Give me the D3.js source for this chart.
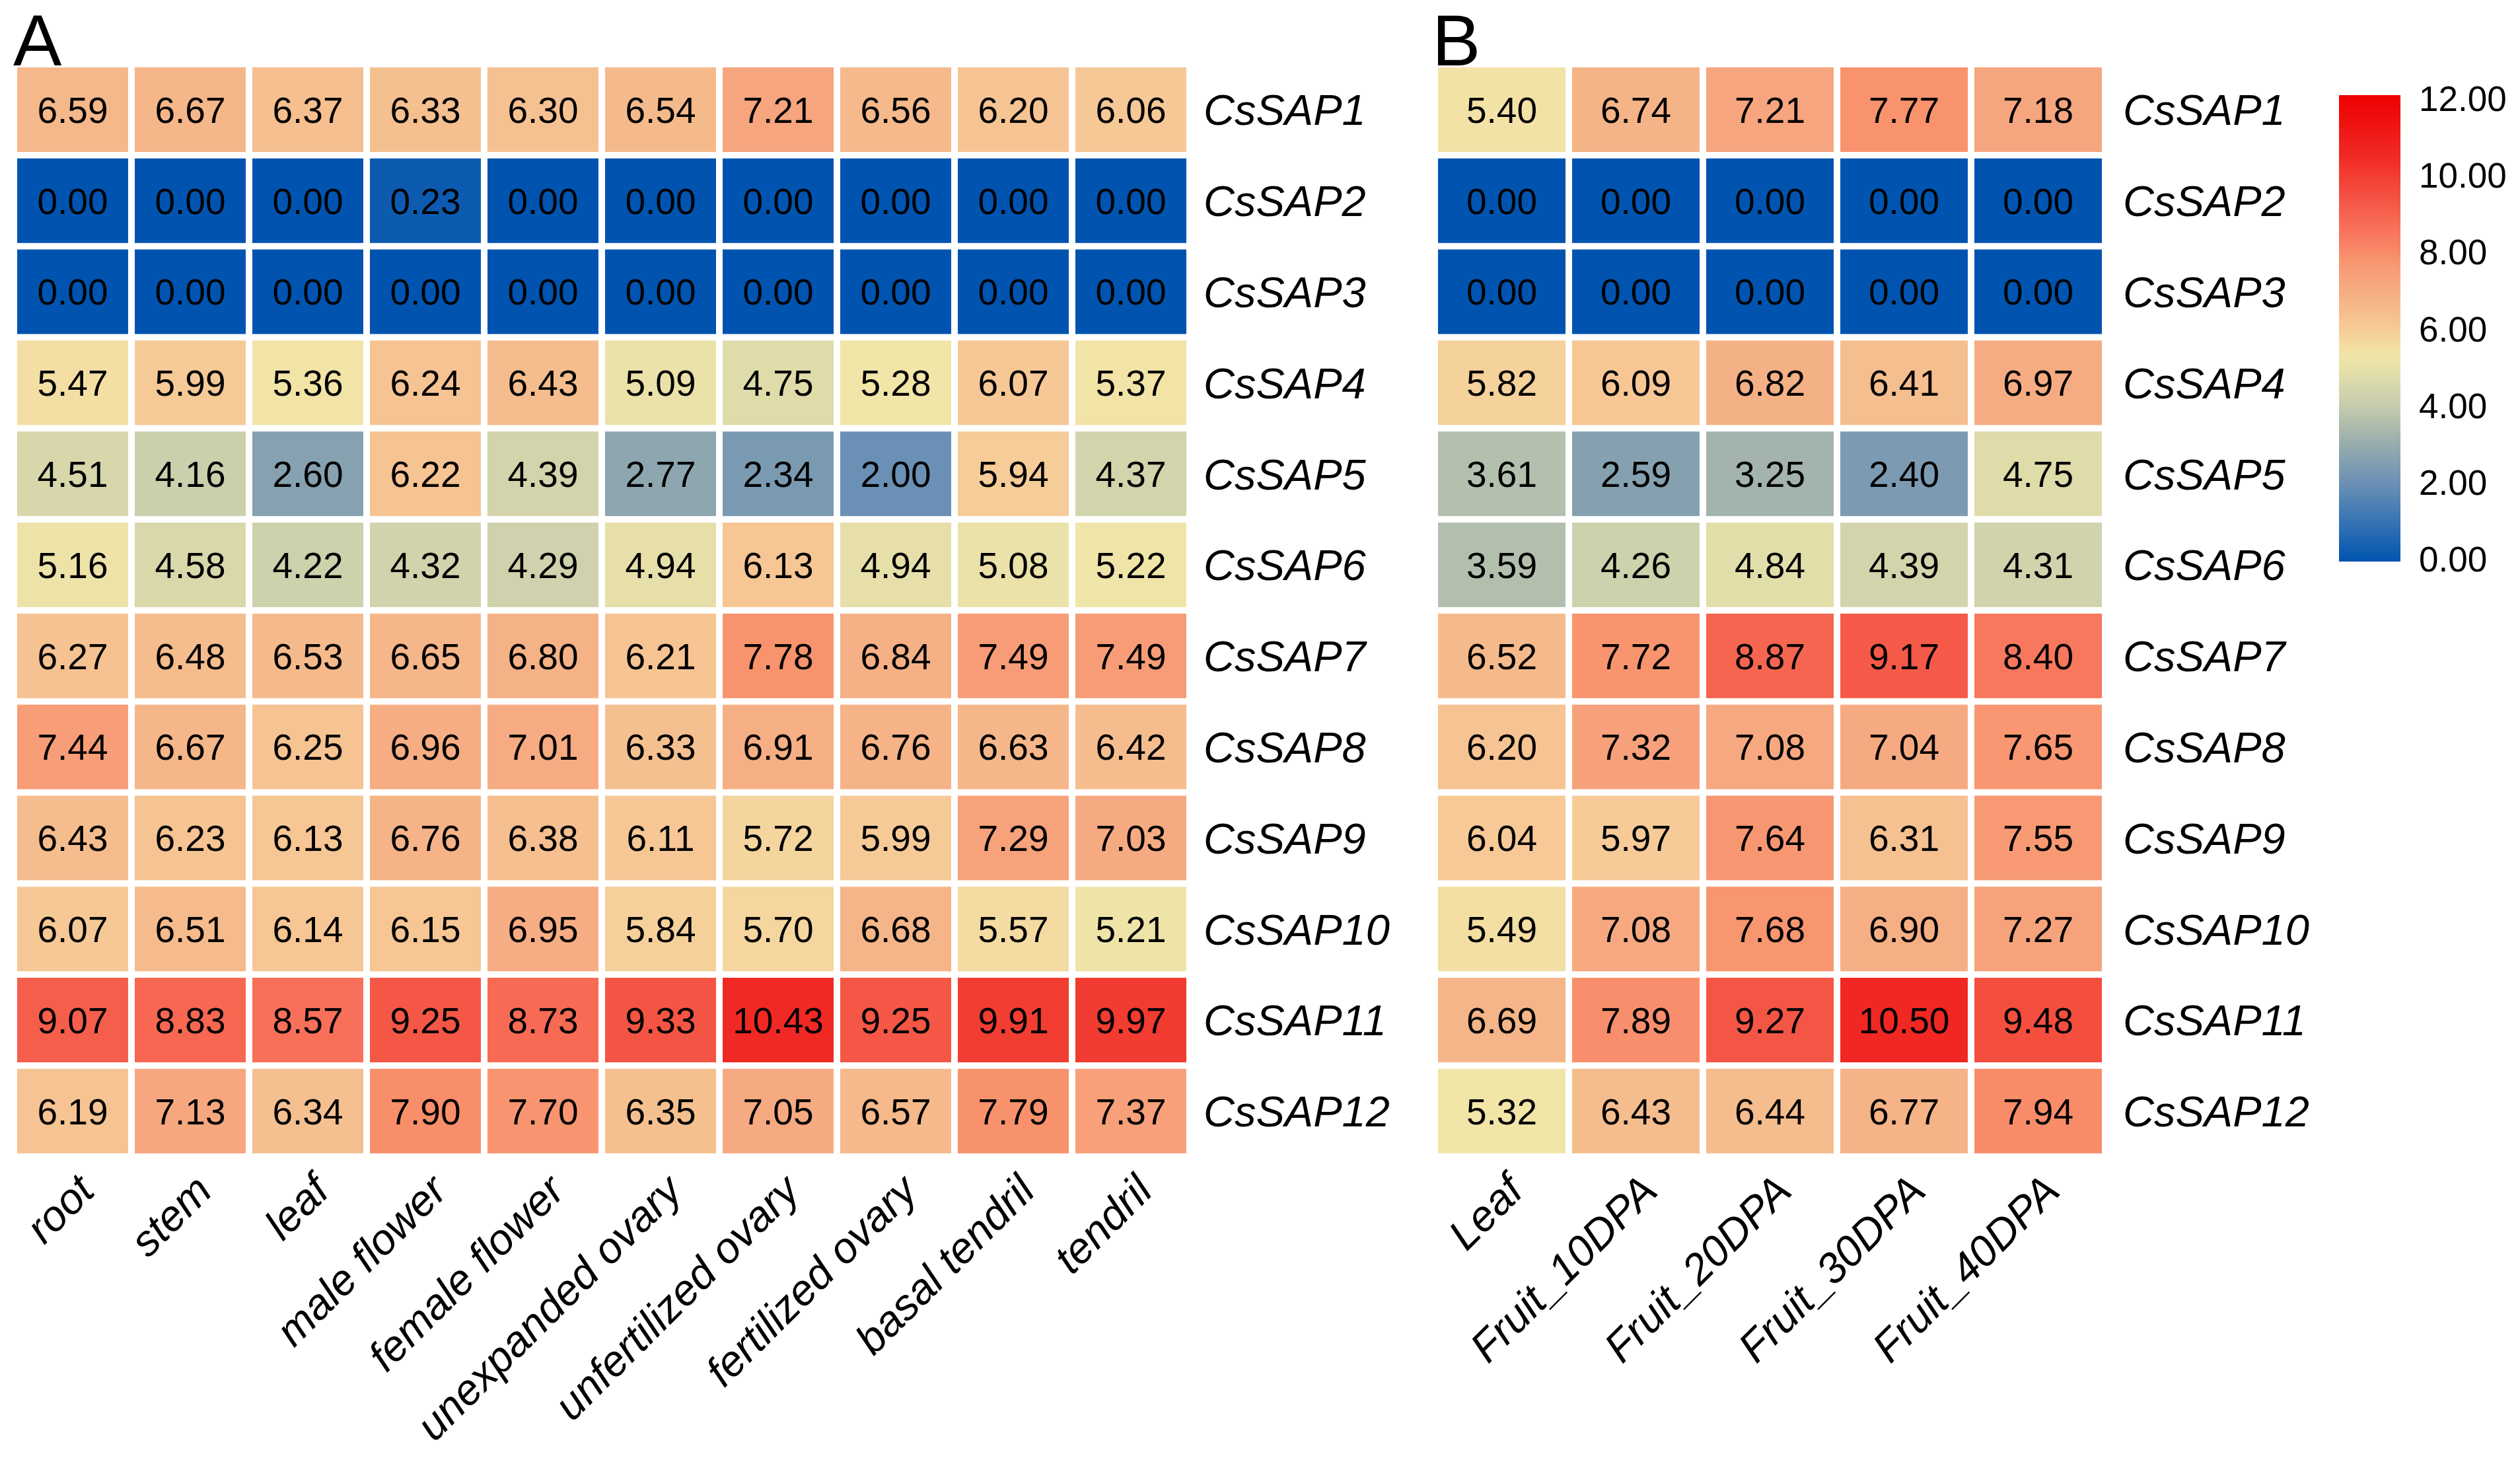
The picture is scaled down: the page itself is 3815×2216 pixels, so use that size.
<!DOCTYPE html>
<html>
<head>
<meta charset="utf-8">
<script src="https://cdn.jsdelivr.net/npm/d3@7/dist/d3.min.js"></script>
<style>
  html, body { margin: 0; padding: 0; background: #ffffff; }
  svg { display: block; }
  text { font-family: "Liberation Sans", Arial, Helvetica, sans-serif; fill: #000; }
</style>
</head>
<body>
<svg id="chart" width="3815" height="2216"></svg>
<script>
// ---------------- DATA ----------------
const genes = ["CsSAP1","CsSAP2","CsSAP3","CsSAP4","CsSAP5","CsSAP6","CsSAP7","CsSAP8","CsSAP9","CsSAP10","CsSAP11","CsSAP12"];

const tissuesA = ["root","stem","leaf","male flower","female flower","unexpanded ovary","unfertilized ovary","fertilized ovary","basal tendril","tendril"];
const valuesA = [
  [6.59, 6.67, 6.37, 6.33, 6.30, 6.54, 7.21, 6.56, 6.20, 6.06],
  [0.00, 0.00, 0.00, 0.23, 0.00, 0.00, 0.00, 0.00, 0.00, 0.00],
  [0.00, 0.00, 0.00, 0.00, 0.00, 0.00, 0.00, 0.00, 0.00, 0.00],
  [5.47, 5.99, 5.36, 6.24, 6.43, 5.09, 4.75, 5.28, 6.07, 5.37],
  [4.51, 4.16, 2.60, 6.22, 4.39, 2.77, 2.34, 2.00, 5.94, 4.37],
  [5.16, 4.58, 4.22, 4.32, 4.29, 4.94, 6.13, 4.94, 5.08, 5.22],
  [6.27, 6.48, 6.53, 6.65, 6.80, 6.21, 7.78, 6.84, 7.49, 7.49],
  [7.44, 6.67, 6.25, 6.96, 7.01, 6.33, 6.91, 6.76, 6.63, 6.42],
  [6.43, 6.23, 6.13, 6.76, 6.38, 6.11, 5.72, 5.99, 7.29, 7.03],
  [6.07, 6.51, 6.14, 6.15, 6.95, 5.84, 5.70, 6.68, 5.57, 5.21],
  [9.07, 8.83, 8.57, 9.25, 8.73, 9.33, 10.43, 9.25, 9.91, 9.97],
  [6.19, 7.13, 6.34, 7.90, 7.70, 6.35, 7.05, 6.57, 7.79, 7.37]
];

const tissuesB = ["Leaf","Fruit_10DPA","Fruit_20DPA","Fruit_30DPA","Fruit_40DPA"];
const valuesB = [
  [5.40, 6.74, 7.21, 7.77, 7.18],
  [0.00, 0.00, 0.00, 0.00, 0.00],
  [0.00, 0.00, 0.00, 0.00, 0.00],
  [5.82, 6.09, 6.82, 6.41, 6.97],
  [3.61, 2.59, 3.25, 2.40, 4.75],
  [3.59, 4.26, 4.84, 4.39, 4.31],
  [6.52, 7.72, 8.87, 9.17, 8.40],
  [6.20, 7.32, 7.08, 7.04, 7.65],
  [6.04, 5.97, 7.64, 6.31, 7.55],
  [5.49, 7.08, 7.68, 6.90, 7.27],
  [6.69, 7.89, 9.27, 10.50, 9.48],
  [5.32, 6.43, 6.44, 6.77, 7.94]
];

const legendTicks = [0, 2, 4, 6, 8, 10, 12];
const legendDomain = [0, 12];

// colour palette (blue - yellow - red)
const colorStops  = [0, 2.0, 3.0, 4.0, 4.75, 5.3, 6.0, 6.6, 7.2, 7.8, 8.6, 9.1, 10.4, 12];
const colorValues = ["#0054b0","#6a90b5","#98acad","#c5ccad","#dfdcaa","#f2e6a8","#f6ca97","#f5b88a","#f6a57e","#f8926d","#f86f58","#f55d4a","#f02a25","#ee0000"];

// ---------------- DRAW ----------------
const svg = d3.select("#chart");
const color = d3.scaleLinear().domain(colorStops).range(colorValues).interpolate(d3.interpolateRgb).clamp(true);
const fmt = d3.format(".2f");

const rowStep = 137.8, rowPad = 9.8 / 137.8;
const y = d3.scaleBand().domain(genes)
  .range([97.1, 97.1 + genes.length * rowStep])
  .paddingInner(rowPad).paddingOuter(rowPad / 2);

function panel(tissues, values, x0, step, labelX, letter, letterX) {
  const pad = 10 / step;
  const x = d3.scaleBand().domain(tissues)
    .range([x0, x0 + tissues.length * step])
    .paddingInner(pad).paddingOuter(pad / 2);

  const g = svg.append("g");
  const cells = [];
  values.forEach((row, i) => row.forEach((v, j) => cells.push({gene: genes[i], tissue: tissues[j], v})));

  g.selectAll("rect.cell").data(cells).join("rect")
    .attr("class", "cell")
    .attr("x", d => x(d.tissue))
    .attr("y", d => y(d.gene))
    .attr("width", x.bandwidth())
    .attr("height", y.bandwidth())
    .attr("fill", d => color(d.v));

  g.selectAll("text.val").data(cells).join("text")
    .attr("class", "val")
    .attr("x", d => x(d.tissue) + x.bandwidth() / 2)
    .attr("y", d => y(d.gene) + y.bandwidth() / 2 + 0.36 * 55)
    .attr("text-anchor", "middle")
    .style("font-size", "55px")
    .text(d => fmt(d.v));

  // row labels
  g.selectAll("text.gene").data(genes).join("text")
    .attr("class", "gene")
    .attr("x", labelX)
    .attr("y", d => y(d) + y.bandwidth() / 2 + 0.36 * 65)
    .style("font-size", "65px")
    .style("font-style", "italic")
    .text(d => d);

  // column labels
  g.selectAll("text.tissue").data(tissues).join("text")
    .attr("class", "tissue")
    .attr("text-anchor", "end")
    .attr("transform", d => `translate(${x(d) + x.bandwidth() / 2 + 36},1806) rotate(-45)`)
    .style("font-size", "65px")
    .style("font-style", "italic")
    .text(d => d);

  // panel letter
  svg.append("text")
    .attr("x", letterX).attr("y", 99)
    .style("font-size", "110px")
    .text(letter);
}

panel(tissuesA, valuesA, 21, 178, 1822, "A", 20);
panel(tissuesB, valuesB, 2172, 203, 3214, "B", 2168);

// ---------------- LEGEND ----------------
const lgX = 3541, lgW = 93, lgTop = 144, lgBottom = 850;
const defs = svg.append("defs");
const grad = defs.append("linearGradient").attr("id", "lg")
  .attr("x1", 0).attr("y1", 1).attr("x2", 0).attr("y2", 0);
d3.range(0, 12.0001, 0.25).forEach(v => {
  grad.append("stop").attr("offset", (v / 12)).attr("stop-color", color(v));
});
svg.append("rect")
  .attr("x", lgX).attr("y", lgTop)
  .attr("width", lgW).attr("height", lgBottom - lgTop)
  .attr("fill", "url(#lg)");

const ly = d3.scaleLinear().domain(legendDomain).range([846, 149]);
svg.selectAll("text.lg").data(legendTicks).join("text")
  .attr("class", "lg")
  .attr("x", 3662)
  .attr("y", d => ly(d) + 0.36 * 53)
  .style("font-size", "53px")
  .text(d => fmt(d));
</script>
</body>
</html>
